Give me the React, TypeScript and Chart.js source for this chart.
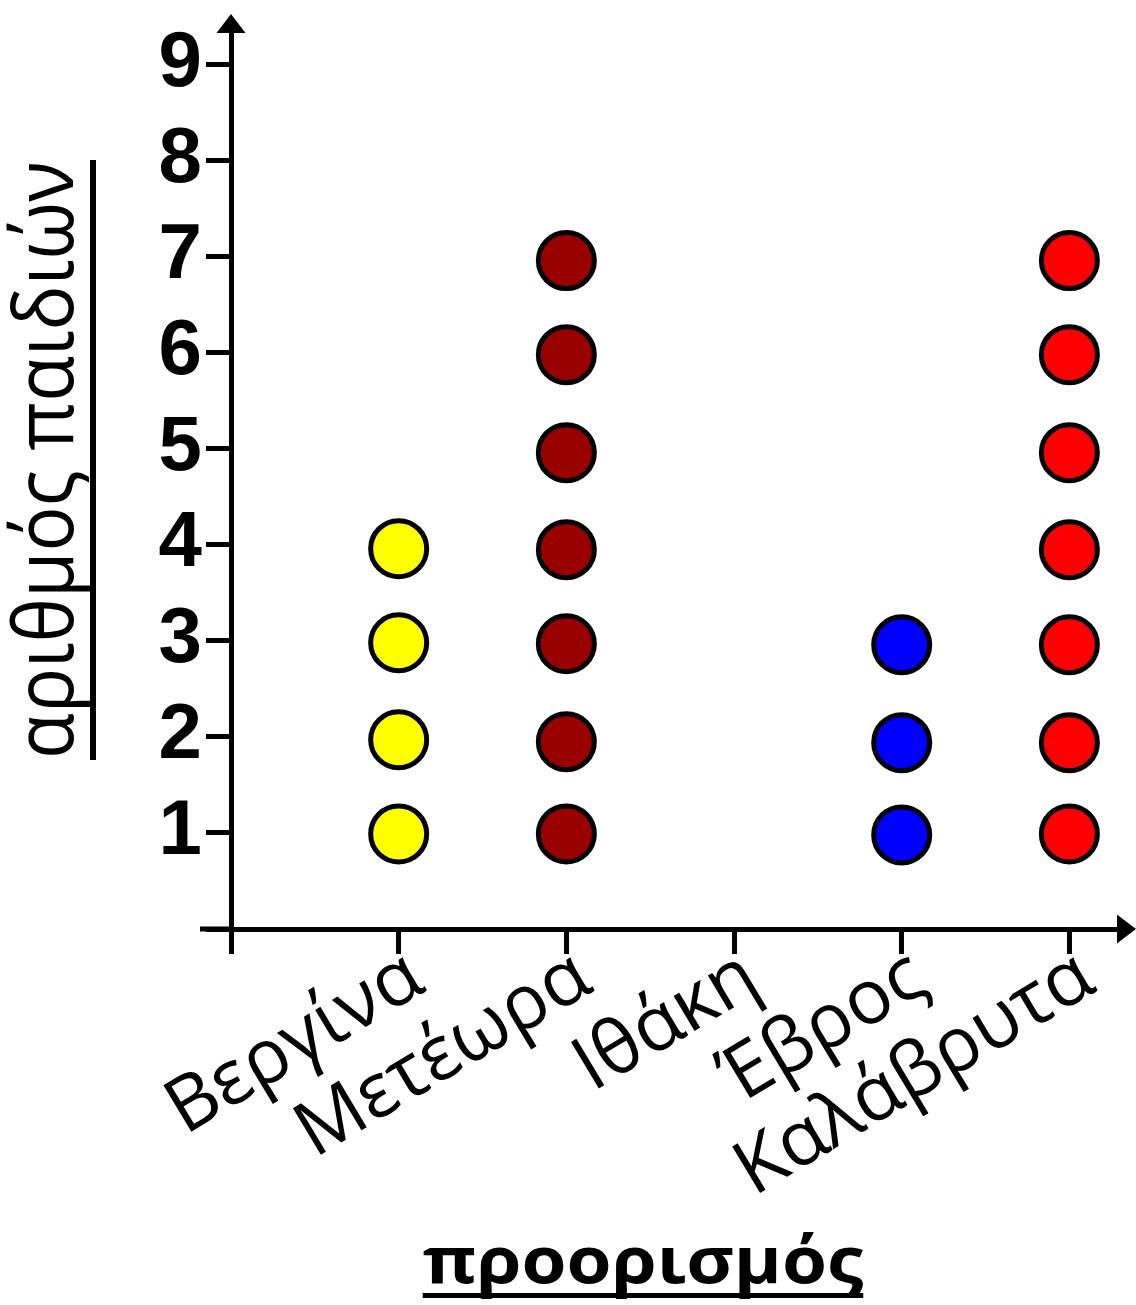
import React, { useEffect, useRef } from "react";
import { Chart, registerables } from "chart.js";

Chart.register(...registerables);

const categories = ["Βεργίνα", "Μετέωρα", "Ιθάκη", "Έβρος", "Καλάβρυτα"];
const yTickLabels = ["1", "2", "3", "4", "5", "6", "7", "8", "9"];
const verginaValues = [0.99, 1.97, 2.98, 3.96];
const meteoraValues = [0.99, 1.95, 2.97, 3.95, 4.96, 5.98, 6.96];
const ithakiValues: number[] = [];
const evrosValues = [0.98, 1.94, 2.96];
const kalavrytaValues = [0.99, 1.94, 2.96, 3.95, 4.96, 5.98, 6.96];
const seriesColors = ["#FFFF00", "#990000", "#0000FF", "#0000FF", "#FF0000"];
const yTitle = "αριθμός παιδιών";
const xTitle = "προορισμός";

const allSeries = [verginaValues, meteoraValues, ithakiValues, evrosValues, kalavrytaValues];

const arrowsAndTitles = {
  id: "arrowsAndTitles",
  afterDraw(chart: any) {
    const ctx = chart.ctx as CanvasRenderingContext2D;
    const { left, top, right, bottom } = chart.chartArea;
    ctx.save();
    ctx.fillStyle = "#000";
    // x axis extension to the left of the y axis
    ctx.fillRect(left - 31, bottom - 2.5, 31, 5);
    // y arrow
    ctx.beginPath();
    ctx.moveTo(left - 14.5, top + 1);
    ctx.lineTo(left + 14.5, top + 1);
    ctx.lineTo(left, top - 18);
    ctx.closePath();
    ctx.fill();
    // x arrow
    ctx.beginPath();
    ctx.moveTo(right - 1, bottom - 14.5);
    ctx.lineTo(right - 1, bottom + 14.5);
    ctx.lineTo(right + 18, bottom);
    ctx.closePath();
    ctx.fill();

    // y title
    ctx.save();
    ctx.translate(73, 460);
    ctx.rotate(-Math.PI / 2);
    ctx.fillRect(-300, 17, 600, 6);
    ctx.scale(0.905, 1);
    ctx.font = '500 83px "Open Sans"';
    ctx.textAlign = "center";
    ctx.textBaseline = "alphabetic";
    ctx.fillText(yTitle, 0, 0);
    ctx.restore();

    // x title
    ctx.save();
    ctx.translate(643, 1283);
    ctx.font = '700 65px "Open Sans"';
    const wx = ctx.measureText(xTitle).width * 1.12;
    ctx.fillRect(-wx / 2, 10, wx, 5);
    ctx.scale(1.12, 1);
    ctx.textAlign = "center";
    ctx.textBaseline = "alphabetic";
    ctx.fillText(xTitle, 0, 0);
    ctx.restore();
    ctx.restore();
  },
};

export default function App() {
  const ref = useRef<HTMLCanvasElement | null>(null);
  useEffect(() => {
    document.body.style.margin = "0";
    const canvas = ref.current!;
    const datasets = allSeries.map((vals, i) => ({
      label: categories[i],
      data: vals.map((v) => ({ x: i + 1, y: v })),
      backgroundColor: seriesColors[i],
      borderColor: "#000",
      borderWidth: 5,
      pointRadius: 28,
      pointHoverRadius: 28,
      showLine: false,
    }));
    const chart = new Chart(canvas, {
      type: "scatter",
      data: { datasets },
      plugins: [arrowsAndTitles],
      options: {
        animation: false,
        responsive: false,
        events: [],
        layout: { autoPadding: false, padding: { top: 32, right: 18, left: 0, bottom: 0 } },
        plugins: { legend: { display: false }, tooltip: { enabled: false } },
        scales: {
          x: {
            type: "linear",
            min: 0,
            max: 5.29,
            afterBuildTicks: (s: any) => {
              s.ticks = [0, 1, 2, 3, 4, 5].map((v) => ({ value: v }));
            },
            afterFit: (s: any) => {
              s.height = 376;
              s.paddingLeft = 0;
              s.paddingRight = 0;
            },
            border: { display: true, color: "#000", width: 5 },
            grid: { drawOnChartArea: false, drawTicks: true, tickLength: 25, color: "#000", lineWidth: 5 },
            ticks: {
              autoSkip: false,
              minRotation: 31,
              maxRotation: 31,
              padding: -22,
              labelOffset: 18,
              color: "#000",
              font: { family: "Open Sans", size: 76, weight: "500" },
              callback: (v: any) => (v >= 1 && v <= categories.length ? categories[v - 1] : ""),
            },
          },
          y: {
            type: "linear",
            min: 0,
            max: 9.34,
            afterBuildTicks: (s: any) => {
              s.ticks = [0, 1, 2, 3, 4, 5, 6, 7, 8, 9].map((v) => ({ value: v }));
            },
            afterFit: (s: any) => {
              s.width = 231;
              s.paddingTop = 0;
              s.paddingBottom = 0;
            },
            border: { display: true, color: "#000", width: 5 },
            grid: { drawOnChartArea: false, drawTicks: true, tickLength: 25, color: "#000", lineWidth: 5 },
            ticks: {
              padding: 4,
              color: "#000",
              font: { family: "Liberation Sans", size: 78, weight: "bold" },
              callback: (v: any) => (v >= 1 ? yTickLabels[v - 1] : ""),
            },
          },
        },
      },
    });
    return () => chart.destroy();
  }, []);
  return (
    <div style={{ width: 1136, height: 1305 }}>
      <canvas ref={ref} width={1136} height={1305} style={{ display: "block" }} />
    </div>
  );
}
